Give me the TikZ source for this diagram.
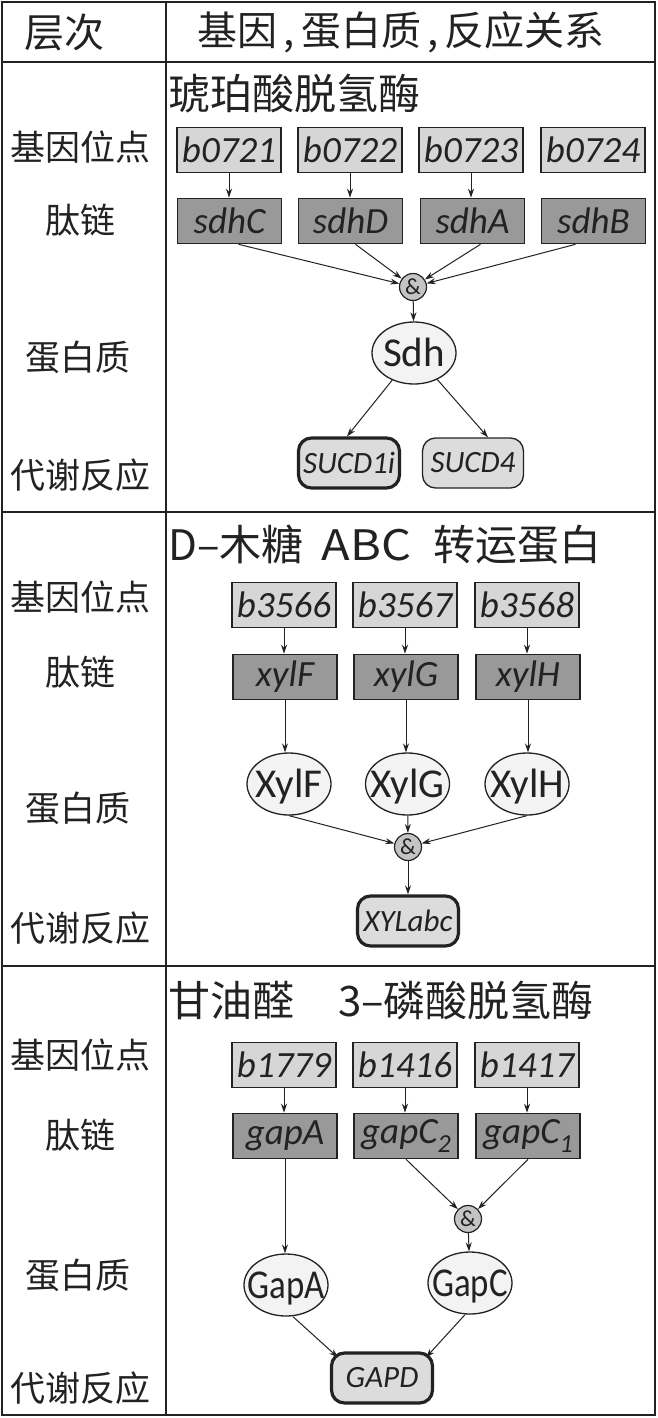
\documentclass[tikz,border=0pt]{standalone}
\usepackage{fontspec}
\setmainfont{Carlito}
\newfontfamily\cjk{Noto Sans CJK SC}
\usetikzlibrary{arrows.meta,shapes.geometric}
\definecolor{genefill}{HTML}{D6D6D6}
\definecolor{pepfill}{HTML}{999999}
\definecolor{protfill}{HTML}{F3F3F3}
\definecolor{andfill}{HTML}{C4C4C4}
\definecolor{rxnfill}{HTML}{DCDCDC}
\definecolor{inkc}{HTML}{222222}
\newcommand{\ctrtxt}[1]{\makebox[0pt]{\raisebox{-0.32em}[0pt][0pt]{#1}}}
\begin{document}
\begin{tikzpicture}[x=1pt,y=-1pt,
  tline/.style={line width=2pt, draw=inkc},
  lab/.style={font=\cjk\fontsize{35}{40}\selectfont, text=inkc, inner sep=0pt},
  head/.style={font=\cjk\fontsize{40}{44}\selectfont, text=inkc, inner sep=0pt},
  ttl/.style={font=\cjk\fontsize{42}{46}\selectfont, text=inkc, inner sep=0pt, anchor=west},
  gene/.style={draw=inkc, line width=1.6pt, fill=genefill, minimum width=104pt, minimum height=45pt, inner sep=0pt, font=\fontsize{37}{40}\selectfont\itshape, text=inkc},
  pep/.style={gene, fill=pepfill},
  prot/.style={ellipse, draw=inkc, line width=1.3pt, fill=protfill, minimum width=84pt, minimum height=62pt, inner sep=0pt, font=\fontsize{41}{44}\selectfont, text=inkc},
  andn/.style={circle, draw=inkc, line width=1.2pt, fill=andfill, minimum size=27pt, inner sep=0pt, font=\fontsize{23}{24}\selectfont, text=inkc},
  rxn/.style={draw=inkc, line width=1.3pt, rounded corners=13pt, fill=rxnfill, minimum width=101pt, minimum height=50pt, inner sep=0pt, font=\fontsize{31}{32}\selectfont\itshape, text=inkc},
  rxnb/.style={rxn, line width=3.2pt},
  arr/.style={draw=inkc, line width=1pt, -{Stealth[length=9pt,width=6pt]}}
]
\useasboundingbox (0,0) rectangle (657,1418);
\fill[white] (0,0) rectangle (657,1418);
% table
\draw[tline] (2,2) rectangle (655,1415);
\draw[tline] (166,2) -- (166,1415);
\draw[tline] (2,62) -- (655,62);
\draw[tline] (2,512) -- (655,512);
\draw[tline] (2,966) -- (655,966);
% header
\node[head] (h1) at (64,32) {层次};
\node[head] (h2) at (401,32) {基因\hspace{6pt},\hspace{6pt}蛋白质\hspace{6pt},\hspace{6pt}反应关系};
% left labels
\node[lab] (l11) at (80,147) {基因位点};
\node[lab] (l12) at (80,220) {肽链};
\node[lab] (l13) at (78,357) {蛋白质};
\node[lab] (l14) at (80,475) {代谢反应};
\node[lab] (l21) at (80,597) {基因位点};
\node[lab] (l22) at (80,672) {肽链};
\node[lab] (l23) at (78,808) {蛋白质};
\node[lab] (l24) at (80,928) {代谢反应};
\node[lab] (l31) at (80,1055) {基因位点};
\node[lab] (l32) at (80,1135) {肽链};
\node[lab] (l33) at (78,1275) {蛋白质};
\node[lab] (l34) at (80,1388) {代谢反应};
% titles
\node[ttl] (t1) at (168,94) {琥珀酸脱氢酶};
\node[ttl] (t2) at (168,545) {D–木糖\hspace{18pt}\scalebox{1.12}[1]{ABC}\hspace{22pt}转运蛋白};
\node[ttl] (t3) at (168,1001) {甘油醛\hspace{44pt}3–磷酸脱氢酶};
% section 1
\node[gene] (b0721) at (229,150) {b0721};
\node[gene] (b0722) at (350,150) {b0722};
\node[gene] (b0723) at (471,150) {b0723};
\node[gene] (b0724) at (593,150) {b0724};
\node[pep] (sdhC) at (229.5,221) {sdhC};
\node[pep] (sdhD) at (350.5,221) {sdhD};
\node[pep] (sdhA) at (472.5,221) {sdhA};
\node[pep] (sdhB) at (593.5,221) {sdhB};
\node[andn] (and1) at (413,287) {\&};
\node[prot] (Sdh) at (414,353) {\ctrtxt{Sdh}};
\node[rxnb] (SUCD1i) at (349,463) {SUCD1i};
\node[rxn] (SUCD4) at (473,463) {SUCD4};
\draw[arr] (b0721.south) -- (b0721.south |- sdhC.north);
\draw[arr] (b0722.south) -- (b0722.south |- sdhD.north);
\draw[arr] (b0723.south) -- (b0723.south |- sdhA.north);
\draw[arr] ([xshift=9pt]sdhC.south) -- (and1);
\draw[arr] ([xshift=5pt]sdhD.south) -- (and1);
\draw[arr] ([xshift=8pt]sdhA.south) -- (and1);
\draw[arr] ([xshift=-18pt]sdhB.south) -- (and1);
\draw[arr] (and1) -- (Sdh);
\draw[arr] (Sdh) -- ([xshift=-2pt]SUCD1i.north);
\draw[arr] (Sdh) -- ([xshift=15pt]SUCD4.north);
% section 2
\node[gene] (b3566) at (284,605) {b3566};
\node[gene] (b3567) at (405,605) {b3567};
\node[gene] (b3568) at (527,605) {b3568};
\node[pep] (xylF) at (285,677) {xylF};
\node[pep] (xylG) at (406,677) {xylG};
\node[pep] (xylH) at (528,677) {xylH};
\node[prot] (XylF) at (289,784) {\ctrtxt{XylF}};
\node[prot] (XylG) at (407.5,784) {\ctrtxt{XylG}};
\node[prot] (XylH) at (527,784) {\ctrtxt{XylH}};
\node[andn] (and2) at (408,847) {\&};
\node[rxnb] (XYLabc) at (408,921) {XYLabc};
\draw[arr] (b3566.south) -- (b3566.south |- xylF.north);
\draw[arr] (b3567.south) -- (b3567.south |- xylG.north);
\draw[arr] (b3568.south) -- (b3568.south |- xylH.north);
\draw[arr] (xylF.south) -- (xylF.south |- XylF.north);
\draw[arr] (xylG.south) -- (xylG.south |- XylG.north);
\draw[arr] (xylH.south) -- (xylH.south |- XylH.north);
\draw[arr] (XylF.south) -- (and2);
\draw[arr] (XylG) -- (and2);
\draw[arr] (XylH.south) -- (and2);
\draw[arr] (and2) -- (XYLabc);
% section 3
\node[gene] (b1779) at (284,1065) {b1779};
\node[gene] (b1416) at (405,1065) {b1416};
\node[gene] (b1417) at (527,1065) {b1417};
\node[pep] (gapA) at (285,1136) {gapA};
\node[pep] (gapC2) at (406,1136) {gapC\raisebox{-0.22em}{\fontsize{26}{26}\selectfont 2}};
\node[pep] (gapC1) at (528,1136) {gapC\raisebox{-0.22em}{\fontsize{26}{26}\selectfont 1}};
\node[prot] (GapA) at (286,1285) {\ctrtxt{\scalebox{0.85}[1]{GapA}}};
\node[andn] (and3) at (468,1219) {\&};
\node[prot] (GapC) at (470,1283) {\ctrtxt{\scalebox{0.85}[1]{GapC}}};
\node[rxnb] (GAPD) at (382,1378) {GAPD};
\draw[arr] (b1779.south) -- (b1779.south |- gapA.north);
\draw[arr] (b1416.south) -- (b1416.south |- gapC2.north);
\draw[arr] (b1417.south) -- (b1417.south |- gapC1.north);
\draw[arr] (gapA.south) -- (gapA.south |- GapA.north);
\draw[arr] (gapC2.south) -- (and3);
\draw[arr] (gapC1.south) -- (and3);
\draw[arr] (and3) -- (GapC);
\draw[arr] ([xshift=7pt]GapA.south) -- ([xshift=-44pt,yshift=-6pt]GAPD.north);
\draw[arr] ([xshift=-5pt]GapC.south) -- ([xshift=44pt,yshift=-6pt]GAPD.north);
\end{tikzpicture}
\end{document}
